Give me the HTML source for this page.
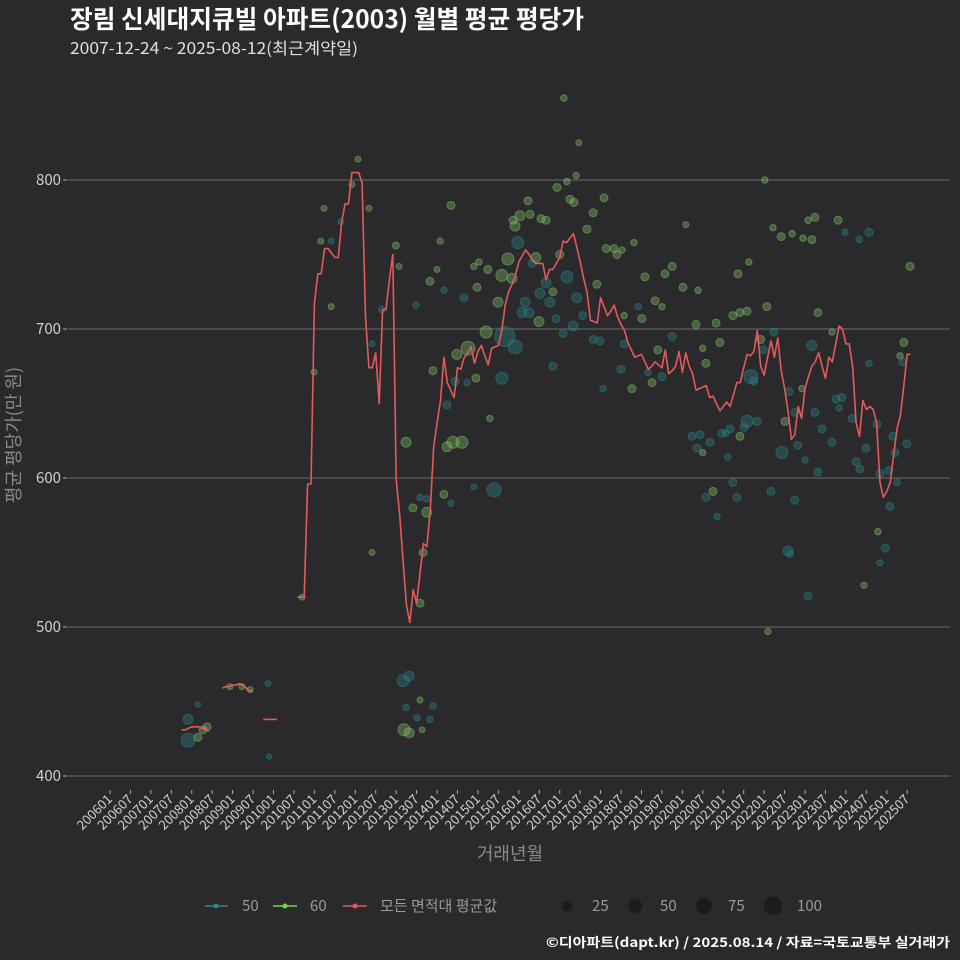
<!DOCTYPE html>
<html><head><meta charset="utf-8">
<style>
html,body{margin:0;padding:0;background:#2a2a2c;}
svg{display:block;font-family:"Noto Sans CJK KR","Liberation Sans",sans-serif;}
</style></head>
<body>
<svg id="chart" width="960" height="960" viewBox="0 0 960 960" xmlns="http://www.w3.org/2000/svg">
<rect x="0" y="0" width="960" height="960" fill="#2a2a2c"/>
<text x="70" y="28" fill="#ffffff" font-size="25" font-weight="bold" textLength="514" lengthAdjust="spacingAndGlyphs">장림 신세대지큐빌 아파트(2003) 월별 평균 평당가</text>
<text x="70" y="54" fill="#e0e0e0" font-size="16" textLength="288" lengthAdjust="spacingAndGlyphs">2007-12-24 ~ 2025-08-12(최근계약일)</text>
<g id="grid"></g>
<g id="yaxis"></g>
<g id="xaxis"></g>
<g id="points"></g>
<g id="line"></g>
<text transform="translate(20,435) rotate(-90)" text-anchor="middle" fill="#8a8a8a" font-size="18">평균 평당가(만 원)</text>
<text x="510" y="860" text-anchor="middle" fill="#8a8a8a" font-size="18">거래년월</text>
<g>
  <g>
    <line x1="205" y1="906" x2="228" y2="906" stroke="#2a8a8e" stroke-width="1.5"/>
    <circle cx="216" cy="906" r="2.5" fill="#2a8a8e"/>
    <text x="242" y="911" fill="#9a9a9a" font-size="15">50</text>
  </g>
  <g>
    <line x1="273" y1="906" x2="297" y2="906" stroke="#7ad151" stroke-width="1.5"/>
    <circle cx="285" cy="906" r="2.5" fill="#7ad151"/>
    <text x="310" y="911" fill="#9a9a9a" font-size="15">60</text>
  </g>
  <g>
    <line x1="343" y1="906" x2="367" y2="906" stroke="#e05a5a" stroke-width="1.5"/>
    <circle cx="355" cy="906" r="2.5" fill="#e05a5a"/>
    <text x="380" y="911" fill="#9a9a9a" font-size="15">모든 면적대 평균값</text>
  </g>
  <g>
    <circle cx="567" cy="906" r="5.5" fill="#1c1c1e"/>
    <text x="592" y="911" fill="#9a9a9a" font-size="15">25</text>
    <circle cx="635" cy="906" r="7" fill="#1c1c1e"/>
    <text x="660" y="911" fill="#9a9a9a" font-size="15">50</text>
    <circle cx="704" cy="906" r="8" fill="#1c1c1e"/>
    <text x="728" y="911" fill="#9a9a9a" font-size="15">75</text>
    <circle cx="773" cy="906" r="9.5" fill="#1c1c1e"/>
    <text x="797" y="911" fill="#9a9a9a" font-size="15">100</text>
  </g>
</g>
<text x="546" y="947" fill="#ffffff" font-size="13" font-weight="bold" textLength="404" lengthAdjust="spacingAndGlyphs">©디아파트(dapt.kr) / 2025.08.14 / 자료=국토교통부 실거래가</text>
</svg>
<script>
const yTicks = [400,500,600,700,800];
const xTickLabels = ["200601","200607","200701","200707","200801","200807","200901","200907","201001","201007","201101","201107","201201","201207","201301","201307","201401","201407","201501","201507","201601","201607","201701","201707","201801","201807","201901","201907","202001","202007","202101","202107","202201","202207","202301","202307","202401","202407","202501","202507"];
// line: months since 2006-01, null marks a gap
const lineMonths = [21,22,23,24,25,26,27,28,29,null,33,34,35,36,37,38,39,40,41,42,null,45,46,47,48,49,null,
55,56,57,58,59,60,61,62,63,64,66,67,68,69,70,71,72,73,74,75,76,77,78,79,80,81,82,83,84,85,86,87,88,89,90,91,92,93,94,95,96,97,98,99,100,101,102,103,104,105,106,107,108,109,110,111,112,113,114,115,116,117,118,119,120,121,122,123,124,125,126,127,128,129,130,131,132,133,134,135,136,137,138,139,140,141,142,143,144,145,146,147,148,149,150,151,152,153,154,155,156,157,158,159,160,161,162,163,164,165,166,167,168,169,170,171,172,173,174,175,176,177,178,179,180,181,182,183,184,185,186,187,188,189,190,191,192,193,194,195,196,197,198,199,200,201,202,203,204,205,206,207,208,209,210,211,212,213,214,215,216,217,218,219,220,221,222,223,224,225,226,227,228,229,230,231,232,233,234,235];
const lineValues = [431,431,432,433,433,433,432,432,430,null,459,460,460,461,461,462,461,459,457,457,null,438,438,438,438,438,null,
520,520,520,596,596,717,737,737,754,754,748,748,772,784,784,805,805,805,798,708,674,674,684,650,713,713,733,750,599,576,545,515,503,525,516,536,556,554,579,621,637,652,681,664,659,654,674,673,681,684,688,677,685,689,682,676,687,688,689,699,716,725,730,736,745,749,753,750,746,744,744,744,733,740,740,744,748,759,758,761,764,755,745,734,725,706,705,704,721,715,709,712,716,708,703,699,691,686,681,682,683,678,673,675,678,676,674,686,670,672,675,685,671,684,675,670,659,660,661,662,654,655,650,645,648,651,648,656,664,664,674,683,682,685,699,675,669,681,692,681,694,672,660,645,626,629,648,640,660,668,675,678,684,675,667,681,678,690,702,700,690,690,674,637,628,652,646,648,646,637,597,587,591,597,615,633,642,662,683,683];
// scatter: month, value, size, area type (0 = 50, 1 = 60)
const ptMonth = [22.9,22.9,25.8,27.3,25.8,28.5,35.2,38.7,41.1,46.4,46.7,56.4,72.8,71,62.8,76,67.8,61.9,64.9,83.9,84.8,64.9,59.9,100.1,96.9,96,93.9,98,106.8,107.7,103.9,89.8,76.9,79.8,94.8,101.8,105.1,101.3,104.8,98.9,86.9,98.9,100.7,103.3,98,91,93,100.1,88.9,93,106.8,91.9,91,76.9,86,87.8,86.3,87.8,86.9,90.1,91.6,93.9,94.8,91,112.7,107.4,108.3,110.4,111.5,115.9,118.9,115,119.7,116.8,115,118,110.9,113.9,121.8,126.2,129.1,130,120.9,123,128,125,123.9,132,134.1,137,125.9,130.9,135.9,133,138.8,142.9,140,118.9,120.3,122.7,128,145.6,147.9,148.8,150.3,153.8,157,162.9,165,168.2,160,162,156.1,155,150.9,165,141.8,143.8,150.9,160.8,162,159.1,157.9,150,144.7,153.2,130,169,172.6,192.8,182.8,184.9,187,207.8,172,177.9,179,174,174.9,191,191.7,194.9,206,211.9,233,231.9,232.7,222.8,188.1,189,199.3,203.1,213.1,214.8,214,206.9,201,198.1,187,186.1,189.9,217.8,225.1,182,179.6,180.8,184.9,173.2,170.8,172.3,176.1,201.9,209,211.9,221.9,229.8,233.9,230.4,197.2,181.3,174,204,219,220.1,207.8,226,228.6,231,182.8,177,174.9,184,194,201,228.9,178.2,204.9,199.6,199,226,227.5,225.4,221.3,193.1,219.9,222.8,215.7,204.9,206.9,213.7,192.2,194.6,197,200.2,203.4,206,187.5,184.3,133.2,137.6,136.8,131.2,134.1,135,136.2,141.8,145,126.5,123.3,118.3,234.8];
const ptValue = [424,438,426,431,448,433,460,460,458,462,413,520,814,797,781,781,772,759,759,756,742,715,671,783,759,740,732,726,742,728,721,716,690,713,672,683,687,665,664,649,624,621,624,624,589,587,586,583,580,577,594,550,516,550,464,467,431,429,446,439,431,438,447,451,592,667,745,698,640,695,688,667,758,747,736,734,740,718,718,724,718,725,711,711,731,748,744,750,735,721,705,707,702,697,709,730,767,769,776,786,773,754,754,750,753,758,735,737,742,728,719,715,707,715,709,695,693,692,690,686,668,664,671,673,660,660,675,770,726,715,709,711,712,711,703,704,691,687,677,693,686,698,689,698,691,682,678,677,668,665,658,660,653,654,647,644,644,638,638,634,638,640,636,633,630,630,628,629,628,620,624,622,633,624,620,628,623,617,617,614,617,612,611,606,604,603,605,597,597,591,587,587,591,585,581,574,521,549,551,543,553,564,528,497,760,765,765,773,775,773,800,768,762,764,761,760,745,737,855,825,803,795,799,787,785,778,788,774,777,773,742];
const ptSize = [51,18,8,8,1,8,2,2,2,2,1,2,2,2,2,2,2,2,2,4,2,2,2,8,3,2,8,3,3,8,8,3,2,3,8,18,51,8,3,8,18,18,33,33,8,3,3,3,8,18,2,8,8,2,33,18,33,18,3,3,2,3,3,2,51,8,3,33,3,131,51,33,33,33,33,18,8,18,18,18,18,8,18,18,18,18,8,8,33,18,18,8,18,8,8,8,8,18,18,8,8,8,8,8,3,3,8,8,8,8,8,3,8,3,3,8,8,8,8,8,8,8,3,8,3,8,8,2,3,8,8,8,8,8,8,8,8,3,8,8,8,8,18,3,8,3,8,3,51,8,8,3,8,8,3,8,8,8,33,8,8,8,8,8,8,3,8,8,8,8,8,8,8,8,8,8,8,8,33,3,3,3,8,8,8,8,8,3,8,8,8,8,8,8,8,3,8,3,18,3,8,3,3,3,3,8,3,3,8,8,3,3,8,3,3,8,3,8,3,2,3,8,3,8,8,8,8,8,8,8,8,2];
const ptType = [0,0,1,1,0,1,1,1,1,0,0,1,1,1,1,1,0,1,0,1,1,1,1,1,1,1,1,0,1,1,0,0,0,0,1,1,1,0,0,0,1,1,1,1,1,0,0,0,1,1,0,1,1,1,0,0,1,1,0,0,1,0,0,1,0,1,1,1,1,0,0,0,0,1,1,1,1,1,0,0,0,1,0,0,0,1,0,1,0,0,1,0,0,0,0,1,1,1,1,1,1,1,1,1,1,1,1,1,1,1,1,1,1,0,1,0,0,0,0,1,0,1,0,0,0,1,0,1,1,1,1,1,1,1,1,1,1,1,1,1,0,0,0,1,1,1,0,0,0,0,0,1,0,0,0,0,0,1,0,0,0,0,0,0,0,0,1,0,0,0,0,0,0,0,0,0,0,0,0,0,1,0,0,0,0,0,0,0,0,1,0,0,0,0,0,0,0,0,0,0,0,1,1,1,0,0,0,1,1,1,1,1,1,1,1,1,1,1,1,1,1,1,1,1,1,1,1,1,1,1,1,1,1];

const NS = "http://www.w3.org/2000/svg";
const PX0 = 68, PX1 = 950;
function xScale(m){ return 110 + m * 3.407; }
function yScale(v){ return 180 + (800 - v) * 1.49; }
function rScale(s){ return Math.max(2.2, 2 + 0.7 * Math.sqrt(s)); }
function mk(tag, attrs, parent){ const e = document.createElementNS(NS, tag); for (const k in attrs) e.setAttribute(k, attrs[k]); parent.appendChild(e); return e; }

const grid = document.getElementById('grid');
const yaxis = document.getElementById('yaxis');
yTicks.forEach(t => {
  const y = yScale(t);
  const gl = mk('line', {x1:PX0, x2:PX1, y1:y, y2:y, stroke:'#6a6a6a', 'stroke-width':1}, grid);
  
  
  const tk = mk('line', {x1:63, x2:67, y1:y, y2:y, stroke:'#aaaaaa', 'stroke-width':1}, yaxis);
  
  
  const tx = mk('text', {x:61, y:y + 5, 'text-anchor':'end', fill:'#d0d0d0', 'font-size':15}, yaxis);
  
  
  tx.textContent = t;
});
const xaxis = document.getElementById('xaxis');
xTickLabels.forEach((lab, i) => {
  const x = xScale(i * 6);
  const tk = mk('line', {x1:x, x2:x, y1:790, y2:794, stroke:'#aaaaaa', 'stroke-width':1}, xaxis);
  
  
  const tx = mk('text', {x:x + 3, y:800, 'text-anchor':'end', fill:'#d0d0d0', 'font-size':13, transform:'rotate(-45 ' + (x + 3) + ' 800)'}, xaxis);
  
  
  tx.textContent = lab;
});
const pts = document.getElementById('points');
const cols = ['#2a8a8e', '#86c96a'];
ptMonth.forEach((m, i) => {
  const c = mk('circle', {cx:xScale(m), cy:yScale(ptValue[i]), r:rScale(ptSize[i]), fill:cols[ptType[i]], 'fill-opacity':0.35, stroke:cols[ptType[i]], 'stroke-opacity':0.45, 'stroke-width':1}, pts);
  
  
});
const lg = document.getElementById('line');
let segs = [], cur = [];
lineMonths.forEach((m, i) => {
  if (m === null || lineValues[i] === null) { if (cur.length) segs.push(cur); cur = []; }
  else cur.push(xScale(m).toFixed(1) + ',' + yScale(lineValues[i]).toFixed(1));
});
if (cur.length) segs.push(cur);
segs.forEach((s, i) => {
  const p = mk('polyline', {points:s.join(' '), fill:'none', stroke:'#e45a5a', 'stroke-width':1.6, 'stroke-linejoin':'round'}, lg);
  
  
});
</script>
</body></html>
